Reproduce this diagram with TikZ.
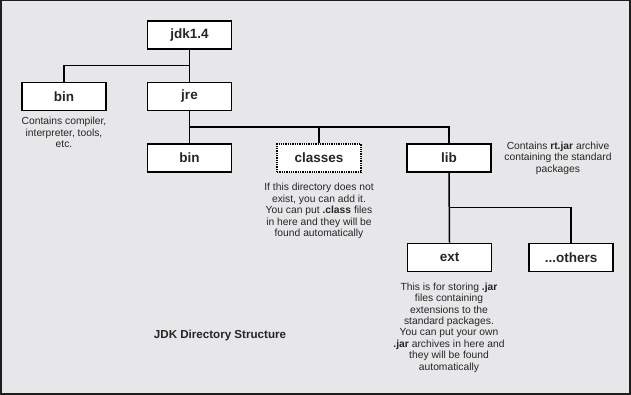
\documentclass[tikz,border=0pt]{standalone}
\usepackage{fontspec}
\setmainfont{Liberation Sans}
\usetikzlibrary{calc}
\definecolor{bgc}{HTML}{E7E7E9}
\definecolor{framec}{HTML}{1E1E1E}
\definecolor{txtc}{HTML}{262626}
\tikzset{
  dirbox/.style={draw=black, line width=1.8pt, fill=white, minimum width=84pt, minimum height=28pt, inner sep=0pt, font=\fontsize{13.5}{14}\selectfont\bfseries, text=txtc},
  dotbox/.style={dirbox, line width=1.3pt, densely dotted},
  note/.style={align=center, inner sep=0pt, text=txtc, font=\fontsize{10.3}{11.4}\selectfont},
  conn/.style={line width=1.5pt, draw=black},
}
\begin{document}
\begin{tikzpicture}[x=1pt,y=-1pt]
\useasboundingbox (0,0) rectangle (631,395);
\fill[bgc] (0,0) rectangle (631,395);
\draw[framec, line width=2pt] (1,0.5) -- (1,394) -- (630,394) -- (630,0.5) -- cycle;

\node[dirbox] (jdk) at (189.5,35) {jdk1.4};
\node[dirbox] (bin1) at (64,96.5) {bin};
\node[dirbox] (jre) at (189.5,96.5) {jre};
\node[dirbox] (bin2) at (189.5,158) {bin};
\node[dotbox] (classes) at (319,158) {classes};
\node[dirbox] (lib) at (449,158) {lib};
\node[dirbox] (ext) at (449.5,257.5) {ext};
\node[dirbox] (others) at (571,257.5) {...others};

\coordinate (j1) at ($(jdk.south)!0.5!(jre.north)$);
\coordinate (j2) at ($(jre.south)!0.5!(bin2.north)$);
\coordinate (j3) at ($(lib.south)!0.5!(ext.north)$);

\draw[conn] (jdk.south) -- (jre.north);
\draw[conn] (j1) -| (bin1.north);
\draw[conn] (jre.south) -- (bin2.north);
\draw[conn] (j2) -| (lib.north);
\draw[conn] (j2) -| (classes.north);
\draw[conn] (lib.south) -- (ext.north);
\draw[conn] (j3) -| (others.north);

\node[note] (n1) at (64,132.5) {Contains compiler,\\interpreter, tools,\\etc.};
\node[note] (n2) at (319,211) {If this directory does not\\exist, you can add it.\\You can put \textbf{.class} files\\in here and they will be\\found automatically};
\node[note] (n3) at (558,158) {Contains \textbf{rt.jar} archive\\containing the standard\\packages};
\node[note] (n4) at (449,327.5) {This is for storing \textbf{.jar}\\files containing\\extensions to the\\standard packages.\\You can put your own\\\textbf{.jar} archives in here and\\they will be found\\automatically};
\node[text=txtc, font=\fontsize{11.6}{13}\selectfont\bfseries, inner sep=0pt] (title) at (220,335) {JDK Directory Structure};
\end{tikzpicture}
\end{document}
